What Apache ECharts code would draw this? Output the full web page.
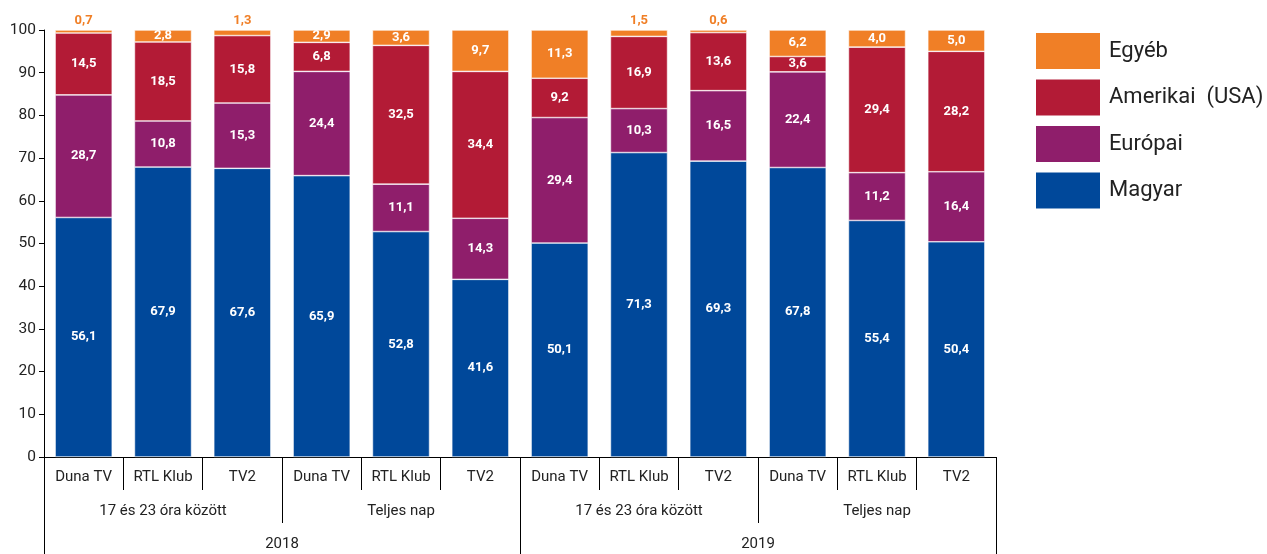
<!DOCTYPE html>
<html><head><meta charset="utf-8">
<script src="https://cdn.jsdelivr.net/npm/echarts@6/dist/echarts.min.js"></script>
<style>html,body{margin:0;padding:0;background:#fff}#c{width:1267px;height:554px}</style>
</head><body><div id="c"></div>
<script>
const channels = ['Duna TV','RTL Klub','TV2','Duna TV','RTL Klub','TV2','Duna TV','RTL Klub','TV2','Duna TV','RTL Klub','TV2'];
const periods = ['17 és 23 óra között','Teljes nap','17 és 23 óra között','Teljes nap'];
const years = ['2018','2019'];
const yTicks = {min:0, max:100, interval:10};
const magyar   = [56.1, 67.9, 67.6, 65.9, 52.8, 41.6, 50.1, 71.3, 69.3, 67.8, 55.4, 50.4];
const europai  = [28.7, 10.8, 15.3, 24.4, 11.1, 14.3, 29.4, 10.3, 16.5, 22.4, 11.2, 16.4];
const amerikai = [14.5, 18.5, 15.8, 6.8, 32.5, 34.4, 9.2, 16.9, 13.6, 3.6, 29.4, 28.2];
const egyeb    = [0.7, 2.8, 1.3, 2.9, 3.6, 9.7, 11.3, 1.5, 0.6, 6.2, 4.0, 5.0];

const FONT = 'Roboto';
const colors = {magyar:'#00489A', europai:'#8F1E6B', amerikai:'#B31B36', egyeb:'#F07F26'};
const fmt = v => v.toFixed(1).replace('.', ',');

function mkSeries(name, arr, color, isTop) {
  return {
    name, type:'bar', stack:'s', xAxisIndex:0, yAxisIndex:0,
    barCategoryGap:'28%',
    itemStyle:{color, borderColor:'#fff', borderWidth:0.6},
    data: arr.map(v => {
      const small = isTop && v < 2;
      return {
        value: v,
        label: {
          show:true,
          position: small ? 'top' : 'inside',
          color: small ? '#F07F26' : '#fff',
          fontWeight:'bold', fontSize:13, fontFamily:FONT,
          distance: 3,
          formatter: p => fmt(p.value)
        }
      };
    })
  };
}

const chart = echarts.init(document.getElementById('c'), null, {renderer:'canvas'});
chart.setOption({
  animation:false,
  textStyle:{fontFamily:FONT},
  grid:{left:44, right:271, top:30, bottom:97, containLabel:false},
  legend:{
    orient:'vertical', left:1034, top:31, padding:0,
    itemWidth:66, itemHeight:38, itemGap:6.5, icon:'rect',
    data:['Egyéb','Amerikai  (USA)','Európai','Magyar'],
    textStyle:{fontSize:22, color:'#222', fontFamily:FONT, padding:[0,0,0,3]}
  },
  xAxis:[
    {type:'category', data:channels, position:'bottom',
     axisLine:{show:true, lineStyle:{color:'#000', width:1}},
     axisTick:{show:true, length:33, interval:0, lineStyle:{color:'#000'}},
     axisLabel:{interval:0, margin:13, fontSize:15, color:'#222', fontFamily:FONT}},
    {type:'category', data:periods, position:'bottom',
     axisLine:{show:false},
     axisTick:{show:true, length:66, interval:0, lineStyle:{color:'#000'}},
     axisLabel:{interval:0, margin:47, fontSize:15, color:'#222', fontFamily:FONT}},
    {type:'category', data:years, position:'bottom',
     axisLine:{show:false},
     axisTick:{show:true, length:100, interval:0, lineStyle:{color:'#000'}},
     axisLabel:{interval:0, margin:80, fontSize:15, color:'#222', fontFamily:FONT}}
  ],
  yAxis:{type:'value', min:yTicks.min, max:yTicks.max, interval:yTicks.interval,
    axisLine:{show:true, lineStyle:{color:'#000'}},
    axisTick:{show:true, length:5, lineStyle:{color:'#000'}},
    splitLine:{show:false},
    axisLabel:{fontSize:15.5, color:'#222', margin:8, fontFamily:FONT}},
  series:[
    mkSeries('Magyar', magyar, colors.magyar, false),
    mkSeries('Európai', europai, colors.europai, false),
    mkSeries('Amerikai  (USA)', amerikai, colors.amerikai, false),
    mkSeries('Egyéb', egyeb, colors.egyeb, true)
  ]
});
</script></body></html>
